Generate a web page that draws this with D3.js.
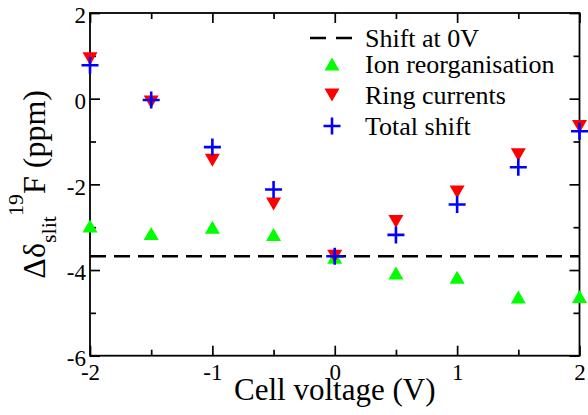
<!DOCTYPE html>
<html>
<head>
<meta charset="utf-8">
<script src="https://cdn.jsdelivr.net/npm/d3@7"></script>
</head>
<body style="margin:0">
<script>
// Data
const voltage = [-2, -1.5, -1, -0.5, 0, 0.5, 1, 1.5, 2];
const ionReorg = [-2.97, -3.15, -3.0, -3.17, -3.70, -4.07, -4.17, -4.63, -4.62];
const ringCurrents = [0.93, -0.08, -1.44, -2.46, -3.68, -2.87, -2.18, -1.31, -0.65];
const totalShift = [0.78, -0.03, -1.13, -2.12, -3.68, -3.18, -2.47, -1.60, -0.76];
const shiftAt0V = -3.68;

const xMajor = [-2, -1, 0, 1, 2];
const xMinor = [-1.5, -0.5, 0.5, 1.5];
const yMajor = [-6, -4, -2, 0, 2];
const yMinor = [-5, -3, -1, 1];

const legendLabels = ["Shift at 0V", "Ion reorganisation", "Ring currents", "Total shift"];

const FONT = "'Liberation Serif', 'Times New Roman', serif";

// Layout
const W = 588, H = 415;
const margin = { top: 13, right: 8.5, bottom: 59.3, left: 90 };
const width = W - margin.left - margin.right;
const height = H - margin.top - margin.bottom;

const svg = d3.select("body").append("svg")
    .attr("width", W)
    .attr("height", H)
    .style("display", "block");

const g = svg.append("g")
    .attr("transform", `translate(${margin.left},${margin.top})`);

const x = d3.scaleLinear().domain([-2, 2]).range([0, width]);
const y = d3.scaleLinear().domain([-6, 2]).range([height, 0]);

// ticks on all four sides, pointing inward
function tickAxis(axisFn, scale, values, size, labels) {
    const a = axisFn(scale).tickValues(values).tickSize(-size);
    if (!labels) a.tickFormat("");
    return a;
}

const fmt = d => (d < 0 ? "-" : "") + Math.abs(d);

// bottom
g.append("g").attr("transform", `translate(0,${height})`)
    .call(tickAxis(d3.axisBottom, x, xMajor, 10, true).tickFormat(fmt).tickPadding(8));
g.append("g").attr("transform", `translate(0,${height})`)
    .call(tickAxis(d3.axisBottom, x, xMinor, 6, false));
// top
g.append("g").call(tickAxis(d3.axisTop, x, xMajor, 10, false));
g.append("g").call(tickAxis(d3.axisTop, x, xMinor, 6, false));
// left
const ly = g.append("g")
    .call(tickAxis(d3.axisLeft, y, yMajor, 10, true).tickFormat(fmt).tickPadding(4));
g.append("g").call(tickAxis(d3.axisLeft, y, yMinor, 6, false));
// right
g.append("g").attr("transform", `translate(${width},0)`)
    .call(tickAxis(d3.axisRight, y, yMajor, 10, false));
g.append("g").attr("transform", `translate(${width},0)`)
    .call(tickAxis(d3.axisRight, y, yMinor, 6, false));

g.selectAll(".domain").remove();
g.selectAll(".tick line").attr("stroke", "#000").attr("stroke-width", 1.7);
g.selectAll(".tick text")
    .attr("fill", "#000")
    .attr("font-size", 23);
ly.selectAll(".tick text").attr("dy", "0.42em");

// frame
g.append("rect")
    .attr("x", 0).attr("y", 0)
    .attr("width", width).attr("height", height)
    .attr("fill", "none")
    .attr("stroke", "#000")
    .attr("stroke-width", 1.8);

// dashed reference line
g.append("line")
    .attr("x1", x(-2)).attr("x2", x(2))
    .attr("y1", y(shiftAt0V)).attr("y2", y(shiftAt0V))
    .attr("stroke", "#000")
    .attr("stroke-width", 2.5)
    .attr("stroke-dasharray", "16,8");

// symbol paths (centered on bounding box, like xmgrace)
const triW = 15, triH = 13, plusS = 17;
const triUp = `M${-triW / 2},${triH / 2}L${triW / 2},${triH / 2}L0,${-triH / 2}Z`;
const triDown = `M${-triW / 2},${-triH / 2}L${triW / 2},${-triH / 2}L0,${triH / 2}Z`;
const plus = `M${-plusS / 2},0H${plusS / 2}M0,${-plusS / 2}V${plusS / 2}`;

const pts = vals => voltage.map((v, i) => ({ v: v, s: vals[i] }));

g.selectAll(".ion").data(pts(ionReorg)).enter().append("path")
    .attr("class", "ion")
    .attr("d", triUp)
    .attr("transform", d => `translate(${x(d.v)},${y(d.s)})`)
    .attr("fill", "#00ff00");

g.selectAll(".ring").data(pts(ringCurrents)).enter().append("path")
    .attr("class", "ring")
    .attr("d", triDown)
    .attr("transform", d => `translate(${x(d.v)},${y(d.s)})`)
    .attr("fill", "#ff0000");

g.selectAll(".total").data(pts(totalShift)).enter().append("path")
    .attr("class", "total")
    .attr("d", plus)
    .attr("transform", d => `translate(${x(d.v)},${y(d.s)})`)
    .attr("fill", "none")
    .attr("stroke", "#0000ff")
    .attr("stroke-width", 2.6);

// axis titles
svg.append("text")
    .attr("x", margin.left + width / 2)
    .attr("y", 400)
    .attr("text-anchor", "middle")
    .attr("font-size", 31)
    .text("Cell voltage (V)");

const yt = svg.append("text")
    .attr("transform", `translate(45,${margin.top + height / 2}) rotate(-90)`)
    .attr("text-anchor", "middle")
    .attr("font-size", 32);
yt.append("tspan").text("\u0394\u03b4");
yt.append("tspan").attr("dy", 11).attr("font-size", 22).text("slit");
yt.append("tspan").attr("dy", -33).attr("font-size", 22).text("19");
yt.append("tspan").attr("dy", 22).text("F (ppm)");

// legend
const legend = svg.append("g");
const rowY = [38, 64, 95, 126];
const symX = 332;

legend.append("line")
    .attr("x1", 310).attr("x2", 352)
    .attr("y1", rowY[0]).attr("y2", rowY[0])
    .attr("stroke", "#000")
    .attr("stroke-width", 2.5)
    .attr("stroke-dasharray", "16,10");
legend.append("path").attr("d", triUp)
    .attr("transform", `translate(${symX},${rowY[1]})`).attr("fill", "#00ff00");
legend.append("path").attr("d", triDown)
    .attr("transform", `translate(${symX},${rowY[2]})`).attr("fill", "#ff0000");
legend.append("path").attr("d", plus)
    .attr("transform", `translate(${symX},${rowY[3]})`)
    .attr("stroke", "#0000ff").attr("stroke-width", 2.6);

legendLabels.forEach((t, i) => {
    legend.append("text")
        .attr("x", 365)
        .attr("y", rowY[i] + 8.5)
        .attr("font-size", 26)
        .text(t);
});

// serif everywhere
svg.selectAll("text, tspan").style("font-family", FONT, "important");
</script>
</body>
</html>
